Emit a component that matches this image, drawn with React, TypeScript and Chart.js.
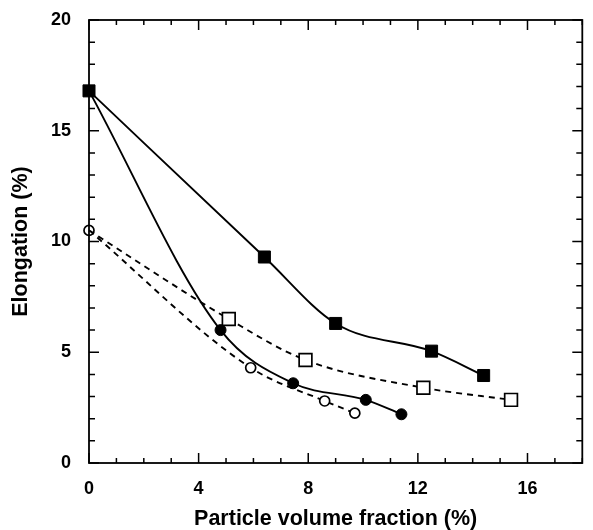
import React, { useEffect, useRef } from "react";
import { Chart, registerables } from "chart.js";

Chart.register(...registerables);

// Filled squares (solid line)
const fsqX = [0, 6.4, 9.0, 12.5, 14.4];
const fsqY = [16.8, 9.3, 6.3, 5.05, 3.95];
// Filled circles (solid line)
const fciX = [0, 4.8, 7.45, 10.1, 11.4];
const fciY = [16.8, 6.0, 3.6, 2.85, 2.2];
// Open squares (dashed line)
const osqX = [0, 5.1, 7.9, 12.2, 15.4];
const osqY = [10.5, 6.5, 4.65, 3.4, 2.85];
// Open circles (dashed line)
const ociX = [0, 5.9, 8.6, 9.7];
const ociY = [10.5, 4.3, 2.8, 2.25];

const xTicks = [0, 4, 8, 12, 16];
const yTicks = [0, 5, 10, 15, 20];

const FONT = "'Liberation Sans', Arial, Helvetica, sans-serif";

const pts = (xs: number[], ys: number[]) => xs.map((x, i) => ({ x, y: ys[i] }));

const framePlugin = {
  id: "frameTicks",
  afterDatasetsDraw(chart: any) {
    const { ctx, chartArea: a, scales } = chart;
    const xs = scales.x;
    const ys = scales.y;
    ctx.save();
    ctx.strokeStyle = "#000";
    ctx.lineWidth = 1.8;
    ctx.strokeRect(a.left, a.top, a.right - a.left, a.bottom - a.top);
    ctx.lineWidth = 1.5;
    ctx.beginPath();
    for (let v = 0; v <= 18; v++) {
      const px = xs.getPixelForValue(v);
      const len = v % 4 === 0 ? 10 : 5;
      ctx.moveTo(px, a.bottom);
      ctx.lineTo(px, a.bottom - len);
      ctx.moveTo(px, a.top);
      ctx.lineTo(px, a.top + len);
    }
    for (let v = 0; v <= 20; v++) {
      const py = ys.getPixelForValue(v);
      const len = v % 5 === 0 ? 10 : 6;
      ctx.moveTo(a.left, py);
      ctx.lineTo(a.left + len, py);
      ctx.moveTo(a.right, py);
      ctx.lineTo(a.right - len, py);
    }
    ctx.stroke();
    ctx.restore();
  },
};

export default function App() {
  const ref = useRef<HTMLCanvasElement | null>(null);
  useEffect(() => {
    if (!ref.current) return;
    const lineBase = {
      borderColor: "#000",
      showLine: true,
      clip: false as any,
      cubicInterpolationMode: "monotone" as const,
      pointHoverRadius: 0,
    };
    const chart = new Chart(ref.current, {
      type: "scatter",
      data: {
        datasets: [
          {
            ...lineBase,
            label: "open squares",
            data: pts(osqX, osqY),
            borderWidth: 1.9,
            borderDash: [6, 5],
            pointStyle: "rect",
            pointRadius: [0, 9, 9, 9, 9],
            pointBackgroundColor: "#fff",
            pointBorderColor: "#000",
            pointBorderWidth: 1.7,
          },
          {
            ...lineBase,
            label: "open circles",
            data: pts(ociX, ociY),
            borderWidth: 1.9,
            borderDash: [6, 5],
            pointStyle: "circle",
            pointRadius: 5,
            pointBackgroundColor: "#fff",
            pointBorderColor: "#000",
            pointBorderWidth: 1.7,
          },
          {
            ...lineBase,
            label: "filled circles",
            data: pts(fciX, fciY),
            borderWidth: 1.9,
            pointStyle: "circle",
            pointRadius: [0, 5.5, 5.5, 5.5, 5.5],
            pointBackgroundColor: "#000",
            pointBorderColor: "#000",
            pointBorderWidth: 1,
          },
          {
            ...lineBase,
            label: "filled squares",
            data: pts(fsqX, fsqY),
            borderWidth: 1.9,
            pointStyle: "rect",
            pointRadius: 8.5,
            pointBackgroundColor: "#000",
            pointBorderColor: "#000",
            pointBorderWidth: 1,
          },
        ],
      },
      options: {
        responsive: false,
        animation: false,
        events: [],
        layout: { padding: { top: 20, right: 7, left: 0, bottom: 0 } },
        plugins: { legend: { display: false }, tooltip: { enabled: false } },
        scales: {
          x: {
            type: "linear",
            min: 0,
            max: 18,
            grid: { display: false, drawTicks: false },
            border: { display: false },
            afterBuildTicks: (s: any) => {
              s.ticks = xTicks.map((v) => ({ value: v }));
            },
            afterFit: (s: any) => {
              s.height = 67;
              s.paddingLeft = 0;
              s.paddingRight = 0;
            },
            ticks: {
              color: "#000",
              padding: 15,
              maxRotation: 0,
              font: { family: FONT, size: 18, weight: "bold" },
            },
            title: {
              display: true,
              text: "Particle volume fraction (%)",
              color: "#000",
              font: { family: FONT, size: 21.5, weight: "bold", lineHeight: 1.0 },
              padding: 0,
            },
          },
          y: {
            type: "linear",
            min: 0,
            max: 20,
            grid: { display: false, drawTicks: false },
            border: { display: false },
            afterBuildTicks: (s: any) => {
              s.ticks = yTicks.map((v) => ({ value: v }));
            },
            afterFit: (s: any) => {
              s.width = 89;
              s.paddingTop = 0;
              s.paddingBottom = 0;
            },
            ticks: {
              color: "#000",
              padding: 18,
              font: { family: FONT, size: 18, weight: "bold" },
            },
            title: {
              display: true,
              text: "Elongation (%)",
              color: "#000",
              font: { family: FONT, size: 21.5, weight: "bold", lineHeight: 1.0 },
              padding: { top: 10, bottom: 0 },
            },
          },
        },
      },
      plugins: [framePlugin],
    });
    return () => chart.destroy();
  }, []);
  return (
    <div
      style={{
        position: "absolute",
        left: 0,
        top: 0,
        width: 593,
        height: 530,
        overflow: "hidden",
        background: "#fff",
      }}
    >
      <canvas ref={ref} width={593} height={530} style={{ display: "block", width: 593, height: 530 }} />
    </div>
  );
}
